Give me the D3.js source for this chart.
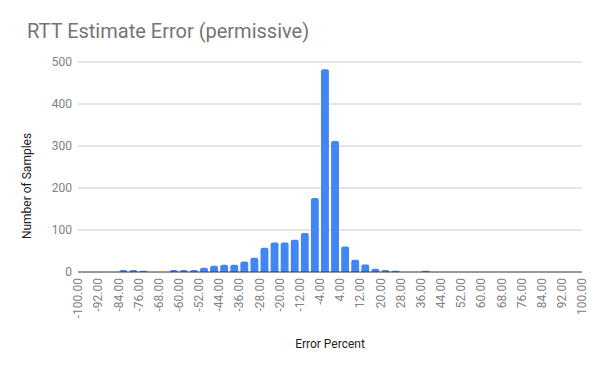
<!DOCTYPE html>
<html>
<head>
<meta charset="utf-8">
<script src="https://cdn.jsdelivr.net/npm/d3@7/dist/d3.min.js"></script>
<style>
  body { margin: 0; background: #fff; }
  svg { font-family: Roboto, "Noto Sans", sans-serif; }
</style>
</head>
<body>
<svg id="chart" width="600" height="371"></svg>
<script>
// histogram bins (start of each 4% bin) and counts
var binStarts = [-100, -96, -92, -88, -84, -80, -76, -72, -68, -64,
                 -60, -56, -52, -48, -44, -40, -36, -32, -28, -24,
                 -20, -16, -12, -8, -4, 0, 4, 8, 12, 16,
                 20, 24, 28, 32, 36, 40, 44, 48, 52, 56,
                 60, 64, 68, 72, 76, 80, 84, 88, 92, 96];
var counts = [0, 0, 0, 0, 5, 5, 3, 0, 0, 5,
              5, 5, 10, 15, 17, 17, 25, 34, 58, 70,
              70, 77, 93, 176, 483, 312, 61, 29, 18, 8,
              5, 3, 0, 0, 3, 0, 0, 0, 0, 0,
              0, 0, 0, 0, 0, 0, 0, 0, 0, 0];
var binWidth = 4;
var xTicks = [-100, -92, -84, -76, -68, -60, -52, -44, -36, -28, -20, -12, -4,
              4, 12, 20, 28, 36, 44, 52, 60, 68, 76, 84, 92, 100];
var yTicks = [0, 100, 200, 300, 400, 500];

var svg = d3.select("#chart");

var plotLeft = 78, plotRight = 582, plotTop = 62, plotBottom = 272;

var x = d3.scaleLinear().domain([-100, 100]).range([plotLeft, plotRight]);
var y = d3.scaleLinear().domain([0, 500]).range([plotBottom, plotTop]);

// title
svg.append("text")
    .attr("x", 27)
    .attr("y", 38)
    .style("font-size", "20px")
    .style("fill", "#757575")
    .text("RTT Estimate Error (permissive)");

// gridlines
svg.selectAll(".grid")
    .data(yTicks.filter(function(d) { return d > 0; }))
    .enter().append("line")
    .attr("x1", plotLeft).attr("x2", plotRight)
    .attr("y1", function(d) { return y(d); })
    .attr("y2", function(d) { return y(d); })
    .style("stroke", "#cccccc")
    .style("stroke-width", 1);

// y labels
svg.selectAll(".ylab")
    .data(yTicks)
    .enter().append("text")
    .attr("x", 72)
    .attr("y", function(d) { return y(d); })
    .attr("dy", "0.35em")
    .attr("text-anchor", "end")
    .style("font-size", "12px")
    .style("fill", "#808080")
    .text(function(d) { return d; });

// bars with rounded tops
var data = binStarts.map(function(b, i) { return {start: b, count: counts[i]}; });

function barPath(d) {
    var x0 = x(d.start) + 1.1, x1 = x(d.start + binWidth) - 1.1;
    var y0 = y(0), y1 = y(d.count);
    var r = Math.min(2, (y0 - y1), (x1 - x0) / 2);
    return "M" + x0 + "," + y0 +
        "V" + (y1 + r) +
        "Q" + x0 + "," + y1 + " " + (x0 + r) + "," + y1 +
        "H" + (x1 - r) +
        "Q" + x1 + "," + y1 + " " + x1 + "," + (y1 + r) +
        "V" + y0 + "Z";
}

svg.selectAll(".bar")
    .data(data.filter(function(d) { return d.count > 0; }))
    .enter().append("path")
    .attr("class", "bar")
    .attr("d", barPath)
    .style("fill", "#4285f4");

// baseline
svg.append("line")
    .attr("x1", plotLeft).attr("x2", plotRight)
    .attr("y1", y(0)).attr("y2", y(0))
    .style("stroke", "#333333")
    .style("stroke-width", 1);

// x labels, rotated (plain hyphen like the original)
var fmt = d3.format(".2f");
svg.selectAll(".xlab")
    .data(xTicks)
    .enter().append("text")
    .attr("transform", function(d) { return "translate(" + x(d) + ",278) rotate(-90)"; })
    .attr("dy", "0.35em")
    .attr("text-anchor", "end")
    .style("font-size", "12px")
    .style("fill", "#808080")
    .text(function(d) { return fmt(d).replace("\u2212", "-"); });

// axis titles
svg.append("text")
    .attr("x", (plotLeft + plotRight) / 2)
    .attr("y", 348)
    .attr("text-anchor", "middle")
    .style("font-size", "12px")
    .style("fill", "#222222")
    .text("Error Percent");

svg.append("text")
    .attr("transform", "translate(31,186) rotate(-90)")
    .attr("text-anchor", "middle")
    .style("font-size", "12px")
    .style("fill", "#222222")
    .text("Number of Samples");
</script>
</body>
</html>
